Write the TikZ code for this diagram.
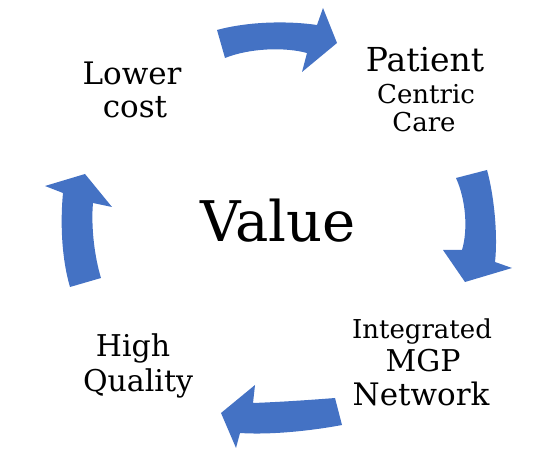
\documentclass[tikz,border=0pt]{standalone}
\usepackage{fontspec}
\setmainfont{DejaVu Serif}
\newfontfamily\labfont{DejaVu Serif}
\definecolor{arrowblue}{HTML}{4472C4}
\tikzset{
  bigarrow/.style={fill=arrowblue, draw=none},
  lab/.style={anchor=base, inner sep=0pt, font=\labfont\fontsize{#1}{#1}\selectfont},
}
\begin{document}
\begin{tikzpicture}[x=1pt,y=-1pt]
\useasboundingbox (0,0) rectangle (547,457);
% arrows
\fill[bigarrow] (217,30) .. controls (250,21) and (290,21) .. (317,25) -- (323,8) -- (337,43) -- (302,72) -- (307,53) .. controls (285,47) and (250,48) .. (225,58) -- cycle;
\fill[bigarrow] (456,178) -- (487,170) .. controls (494,195) and (498,235) .. (495,262) -- (512,268) -- (465,282) -- (443,250) -- (462,250) .. controls (468,230) and (466,200) .. (456,178) -- cycle;
\fill[bigarrow] (335,398) -- (342,425) .. controls (310,431) and (270,435) .. (240,433) -- (236,448) -- (221,413) -- (255,385) -- (253,403) .. controls (280,402) and (310,400) .. (335,398) -- cycle;
\fill[bigarrow] (70,287) -- (101,278) .. controls (94,255) and (91,225) .. (93,203) -- (112,207) -- (85,174) -- (45,186) -- (63,193) .. controls (60,225) and (62,260) .. (70,287) -- cycle;
% labels
\node[lab=31] (lower) at (132,85) {Lower};
\node[lab=31] (cost) at (135,118) {cost};
\node[lab=33] (patient) at (425,72) {Patient};
\node[lab=26] (centric) at (426,104) {Centric};
\node[lab=26] (care) at (424,132) {Care};
\node[lab=26] (integrated) at (422,339) {Integrated};
\node[lab=30] (mgp) at (423,372) {MGP};
\node[lab=31] (network) at (421,406) {Network};
\node[lab=30] (high) at (133,357) {High};
\node[lab=30] (quality) at (138,392) {Quality};
\node[lab=56] (value) at (278,242) {Value};
\end{tikzpicture}
\end{document}
